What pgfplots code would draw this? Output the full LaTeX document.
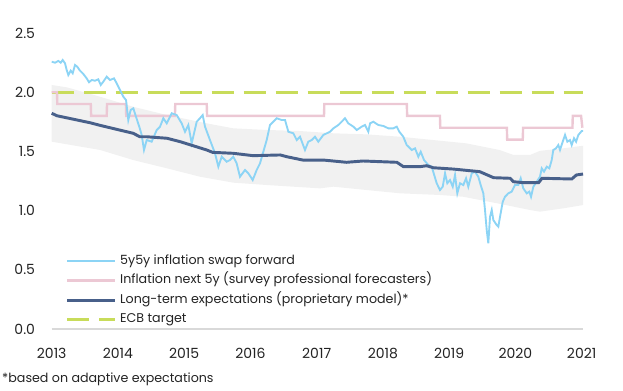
\documentclass[border=0pt]{standalone}
\usepackage{pgfplots}
\pgfplotsset{compat=1.18}
\usepackage{fontspec}
\setmainfont{Poppins}
\definecolor{swap}{RGB}{140,212,245}
\definecolor{spf}{RGB}{236,200,212}
\definecolor{model}{RGB}{72,96,138}
\definecolor{ecb}{RGB}{200,220,90}
\definecolor{band}{RGB}{241,241,241}
\definecolor{axgray}{RGB}{217,217,217}
\definecolor{txt}{RGB}{35,35,35}
\begin{document}
\begin{tikzpicture}
\begin{axis}[
  scale only axis,
  width=398.5pt, height=222pt,
  xmin=2013, xmax=2021.02, ymin=0, ymax=2.5,
  axis lines*=left,
  x axis line style={draw=axgray, line width=0.8pt, -},
  y axis line style={draw=none},
  tick style={draw=none},
  major tick length=0pt,
  xtick={2013,2014,...,2021},
  ytick={0,0.5,...,2.5},
  /pgf/number format/assume math mode=true,
  xticklabel style={/pgf/number format/1000 sep={}, yshift=-10.5pt, font=\fontsize{10.5}{12}\selectfont, text=txt},
  yticklabel style={/pgf/number format/.cd, fixed, fixed zerofill, precision=1, /tikz/.cd, xshift=-9pt, font=\fontsize{10.5}{12}\selectfont, text=txt},
  clip=false,
  legend image code/.code={\draw[#1] (0pt,0pt) -- (36pt,0pt);},
  legend style={at={(rel axis cs:0.026,0.255)}, anchor=north west, draw=none, fill=none, inner sep=0pt,
    font=\fontsize{9.5}{11}\selectfont, text=txt, row sep=3.6pt,
    nodes={inner sep=1pt, text height=7pt, text depth=2pt},
    /tikz/every odd column/.append style={column sep=1.5pt}},
  legend cell align=left,
]
\addlegendimage{color=swap, line width=1.4pt}
\addlegendentry{5y5y inflation swap forward}
\addlegendimage{color=spf, line width=1.8pt}
\addlegendentry{Inflation next 5y (survey professional forecasters)}
\addlegendimage{color=model, line width=2.2pt}
\addlegendentry{Long-term expectations (proprietary model)*}
\addlegendimage{color=ecb, line width=2.3pt, dash pattern=on 16.5pt off 7.5pt}
\addlegendentry{ECB target}

% band
\addplot[fill=band, draw=none, forget plot] coordinates {
(2013.00,2.061)(2013.23,2.041)(2013.73,1.962)(2014.23,1.877)(2014.74,1.807)(2015.34,1.737)
(2015.74,1.695)(2016.25,1.681)(2016.75,1.672)(2017.25,1.653)(2017.75,1.644)(2018.26,1.624)
(2018.76,1.596)(2019.26,1.568)(2019.76,1.512)(2019.97,1.470)(2020.22,1.470)(2020.37,1.505)
(2020.72,1.526)(2021.02,1.548)
(2021.02,1.047)(2020.72,1.019)(2020.37,0.991)(2020.22,1.005)(2019.72,1.062)(2019.21,1.117)
(2018.86,1.132)(2018.26,1.146)(2017.75,1.174)(2017.25,1.202)(2017.05,1.188)(2016.25,1.216)
(2015.74,1.236)(2015.24,1.286)(2014.74,1.357)(2014.23,1.427)(2013.73,1.512)(2013.00,1.582)
} -- cycle;

% ECB target
\addplot[color=ecb, line width=2.3pt, dash pattern=on 16.5pt off 7.5pt, forget plot] coordinates {(2013,2.0)(2021.02,2.0)};

% SPF
\addplot[color=spf, line width=1.8pt, forget plot] coordinates {
(2013,2.0)(2013.08,2.0)(2013.085,1.9)(2013.59,1.9)(2013.595,1.8)(2013.83,1.8)(2013.835,1.9)
(2014.12,1.9)(2014.125,1.8)(2014.86,1.8)(2014.865,1.9)(2015.34,1.9)(2015.345,1.8)
(2017.11,1.8)(2017.115,1.9)(2018.36,1.9)(2018.365,1.8)(2018.86,1.8)(2018.865,1.7)
(2019.87,1.7)(2019.875,1.6)(2020.11,1.6)(2020.115,1.7)(2020.86,1.7)(2020.865,1.8)
(2020.99,1.8)(2021.01,1.7)
};

% 5y5y swap
\addplot[color=swap, line width=1.4pt, forget plot] coordinates {
(2013.000,2.258)(2013.050,2.249)(2013.100,2.264)(2013.136,2.249)(2013.166,2.272)(2013.201,2.244)
(2013.226,2.188)(2013.251,2.145)(2013.287,2.182)(2013.317,2.160)(2013.352,2.230)(2013.386,2.215)
(2013.427,2.182)(2013.477,2.154)(2013.528,2.117)(2013.563,2.084)(2013.604,2.103)(2013.654,2.097)
(2013.703,2.109)(2013.740,2.061)(2013.779,2.089)(2013.830,2.131)(2013.880,2.103)(2013.940,2.117)
(2013.981,2.075)(2014.031,2.019)(2014.081,1.962)(2014.122,1.934)(2014.156,1.765)(2014.192,1.850)
(2014.232,1.864)(2014.272,1.793)(2014.322,1.709)(2014.358,1.639)(2014.393,1.512)(2014.434,1.596)
(2014.509,1.582)(2014.585,1.681)(2014.635,1.709)(2014.685,1.780)(2014.736,1.737)(2014.811,1.822)
(2014.887,1.807)(2014.962,1.737)(2015.012,1.666)(2015.062,1.723)(2015.113,1.568)(2015.189,1.751)
(2015.238,1.780)(2015.279,1.807)(2015.314,1.709)(2015.389,1.596)(2015.465,1.484)(2015.515,1.371)
(2015.566,1.455)(2015.642,1.413)(2015.691,1.427)(2015.741,1.455)(2015.792,1.399)(2015.842,1.286)
(2015.918,1.343)(2015.968,1.315)(2016.034,1.258)(2016.094,1.343)(2016.144,1.399)(2016.194,1.497)
(2016.245,1.596)(2016.295,1.723)(2016.345,1.751)(2016.396,1.780)(2016.472,1.765)(2016.522,1.765)
(2016.572,1.666)(2016.647,1.653)(2016.698,1.596)(2016.748,1.624)(2016.823,1.512)(2016.873,1.582)
(2016.925,1.596)(2016.974,1.624)(2017.024,1.582)(2017.100,1.639)(2017.201,1.666)(2017.251,1.695)
(2017.326,1.723)(2017.377,1.751)(2017.427,1.780)(2017.477,1.737)(2017.553,1.709)(2017.604,1.681)
(2017.679,1.709)(2017.729,1.723)(2017.779,1.666)(2017.805,1.737)(2017.854,1.751)(2017.930,1.723)
(2018.005,1.715)(2018.081,1.695)(2018.156,1.695)(2018.208,1.709)(2018.247,1.666)(2018.307,1.624)
(2018.358,1.554)(2018.434,1.512)(2018.484,1.526)(2018.534,1.455)(2018.570,1.497)(2018.620,1.427)
(2018.685,1.385)(2018.736,1.371)(2018.811,1.231)(2018.861,1.174)(2018.902,1.202)(2018.937,1.315)
(2018.971,1.231)(2019.012,1.258)(2019.053,1.202)(2019.088,1.301)(2019.122,1.146)(2019.163,1.231)
(2019.213,1.216)(2019.254,1.273)(2019.288,1.202)(2019.340,1.315)(2019.389,1.329)(2019.439,1.286)
(2019.475,1.216)(2019.515,1.146)(2019.540,1.005)(2019.566,0.836)(2019.590,0.724)(2019.616,0.948)
(2019.642,1.005)(2019.666,0.921)(2019.717,0.878)(2019.741,0.864)(2019.767,0.948)(2019.808,1.075)
(2019.842,1.117)(2019.892,1.146)(2019.943,1.160)(2019.992,1.216)(2020.043,1.216)(2020.079,1.273)
(2020.118,1.188)(2020.170,1.146)(2020.209,1.160)(2020.235,1.117)(2020.270,1.202)(2020.321,1.244)
(2020.370,1.286)(2020.396,1.357)(2020.431,1.329)(2020.472,1.371)(2020.511,1.357)(2020.547,1.427)
(2020.571,1.512)(2020.612,1.526)(2020.647,1.554)(2020.672,1.512)(2020.713,1.582)(2020.748,1.639)
(2020.783,1.582)(2020.823,1.596)(2020.849,1.554)(2020.884,1.611)(2020.915,1.582)(2020.949,1.639)
(2021.000,1.672)(2021.020,1.672)
};

% model
\addplot[color=model, line width=2.2pt, forget plot] coordinates {
(2013.00,1.822)(2013.08,1.801)(2013.58,1.742)(2013.73,1.720)(2014.23,1.653)(2014.33,1.624)
(2014.43,1.624)(2014.74,1.611)(2014.94,1.582)(2015.34,1.512)(2015.43,1.492)(2015.74,1.484)
(2016.04,1.464)(2016.45,1.470)(2016.55,1.455)(2016.79,1.427)(2017.10,1.427)(2017.45,1.408)
(2017.70,1.419)(2018.21,1.408)(2018.31,1.371)(2018.56,1.371)(2018.66,1.379)(2018.76,1.362)
(2019.06,1.351)(2019.46,1.329)(2019.67,1.278)(2019.92,1.273)(2019.97,1.244)(2020.12,1.236)
(2020.35,1.236)(2020.40,1.273)(2020.85,1.267)(2020.92,1.301)(2021.02,1.309)
};
\end{axis}
\node[anchor=west, inner sep=0pt, font=\fontsize{9.5}{11}\selectfont, text=txt] at ([shift={(-37.3pt,-37.5pt)}]current axis.south west) {*based on adaptive expectations};
\pgfresetboundingbox
\path ([shift={(-38.775pt,-45.75pt)}]current axis.south west) rectangle ++(467.25pt,292.5pt);
\end{tikzpicture}
\end{document}
